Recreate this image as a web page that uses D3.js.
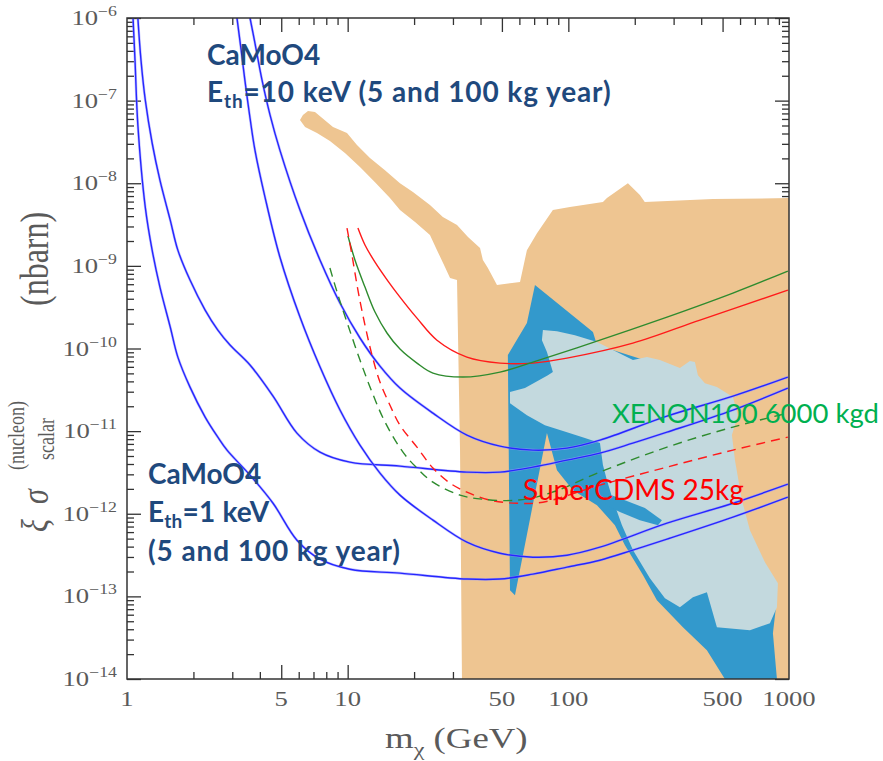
<!DOCTYPE html>
<html><head><meta charset="utf-8">
<script src="https://cdn.jsdelivr.net/npm/d3@7"></script>
<style>body{margin:0;background:#fff;} svg{display:block;}</style>
</head><body>
<script>
// ---- tick labels ----
const xTickLabels = [1, 5, 10, 50, 100, 500, 1000];
const xMajorTicks = [5, 10, 50, 100, 500];
const yTickExponents = [-6, -7, -8, -9, -10, -11, -12, -13, -14];

// ---- CaMoO4 sensitivity curves [mass GeV, sigma nbarn] ----
const camoo4_1keV_100kg = [[1.065,1e-6],[1.087,3.1e-7],[1.12,5.06e-8],[1.21,5.15e-9],[1.30,1.55e-9],[1.41,5.54e-10],[1.57,1.82e-10],[1.70,7.87e-11],[1.93,3.41e-11],[2.26,1.48e-11],[2.58,8.46e-12],[2.84,5.89e-12],[3.61,2.93e-12],[4.59,1.34e-12],[5.89,4.79e-13],[7.49,2.82e-13],[10.24,2.13e-13],[17.26,1.91e-13],[34.7,1.62e-13],[49,1.62e-13],[69.1,1.86e-13],[98.6,2.26e-13],[139,2.74e-13],[196,3.63e-13],[280,4.93e-13],[557,9.1e-13],[988,1.59e-12]];
const camoo4_1keV_5kg = [[1.12,1e-6],[1.157,3.1e-7],[1.21,1.02e-7],[1.30,3.07e-8],[1.41,1.09e-8],[1.57,3.58e-9],[1.70,1.55e-9],[1.93,6.73e-10],[2.26,2.92e-10],[2.58,1.67e-10],[2.93,1.10e-10],[3.61,6.30e-11],[4.59,2.65e-11],[5.89,9.46e-12],[7.49,5.57e-12],[10.24,4.21e-12],[17.26,3.77e-12],[34.7,3.19e-12],[49,3.19e-12],[69.1,3.67e-12],[98.6,4.46e-12],[139,5.42e-12],[196,7.16e-12],[280,9.72e-12],[557,1.80e-11],[988,3.32e-11]];
const camoo4_10keV_100kg = [[3.15,1e-6],[3.29,4.10e-7],[3.42,1.78e-7],[3.61,6.16e-8],[3.80,2.52e-8],[4.22,6.81e-9],[4.93,1.28e-9],[6.08,2.40e-10],[7.49,6.0e-11],[9.23,1.80e-11],[11.37,6.77e-12],[14.01,3.10e-12],[17.26,1.68e-12],[24.35,8.37e-13],[34.7,4.53e-13],[49,3.33e-13],[69.1,2.98e-13],[98.6,3.15e-13],[139,3.94e-13],[280,7.69e-13],[557,1.34e-12],[988,2.28e-12]];
const camoo4_10keV_5kg = [[3.61,1e-6],[3.80,4.98e-7],[4.09,1.78e-7],[4.45,6.69e-8],[4.93,2.52e-8],[6.08,4.74e-9],[7.49,1.18e-9],[9.23,3.55e-10],[11.37,1.34e-10],[14.01,6.12e-11],[17.26,3.32e-11],[24.35,1.65e-11],[34.7,8.95e-12],[49,6.58e-12],[69.1,5.89e-12],[98.6,6.23e-12],[139,7.78e-12],[280,1.52e-11],[557,2.65e-11],[988,4.51e-11]];

// ---- projected limits ----
const superCDMS_solid = [[11.13,2.87e-9],[11.98,1.79e-9],[13.30,1.11e-9],[15.23,6.55e-10],[17.26,4.19e-10],[20.61,2.33e-10],[25.39,1.26e-10],[34.7,7.87e-11],[49,6.66e-11],[69.1,6.66e-11],[98.6,7.65e-11],[196,1.16e-10],[395,2.21e-10],[988,5.09e-10]];
const superCDMS_dashed = [[9.93,2.87e-9],[10.46,1.35e-9],[11.13,5.09e-10],[11.98,1.92e-10],[12.89,8.32e-11],[14.01,3.92e-11],[15.55,2.06e-11],[17.26,1.18e-11],[20.61,6.40e-12],[24.35,3.57e-12],[29.08,2.35e-12],[34.7,1.83e-12],[44.1,1.46e-12],[58.5,1.34e-12],[76.7,1.38e-12],[139,2.22e-12],[280,3.67e-12],[557,5.89e-12],[988,8.46e-12]];
const xenon100_solid = [[10.03,2.30e-9],[10.79,1.18e-9],[11.98,5.54e-10],[13.30,2.76e-10],[15.07,1.54e-10],[17.26,9.83e-11],[20.61,6.66e-11],[24.35,5.04e-11],[33.3,4.51e-11],[49,5.18e-11],[69.1,6.85e-11],[139,1.26e-10],[280,2.40e-10],[557,4.69e-10],[988,8.65e-10]];
const xenon100_dashed = [[8.31,9.41e-10],[9.04,4.43e-10],[10.03,1.92e-10],[11.37,7.24e-11],[12.89,2.97e-11],[14.76,1.29e-11],[17.81,5.57e-12],[20.61,3.57e-12],[24.35,2.41e-12],[32.3,1.68e-12],[41.0,1.50e-12],[58.5,1.46e-12],[82.5,1.78e-12],[139,3.19e-12],[280,6.40e-12],[557,1.12e-11],[988,1.65e-11]];

// ---- shaded regions ----
const orangeRegion = [[6.27,6.69e-8],[6.61,7.48e-8],[7.11,7.28e-8],[8.58,4.79e-8],[9.93,4.05e-8],[11.02,2.90e-8],[12.62,2.02e-8],[14.76,1.44e-8],[17.26,1.0e-8],[19.76,7.83e-9],[23.6,5.45e-9],[27.0,3.90e-9],[31.3,3.12e-9],[35.1,2.23e-9],[39.8,1.64e-9],[41.0,1.18e-9],[43.2,9.41e-10],[47.5,5.86e-10],[60.4,6.37e-10],[64.9,1.55e-9],[72.1,2.49e-9],[85.1,4.74e-9],[101.7,5.15e-9],[143.5,5.92e-9],[149.6,6.62e-9],[186.2,1.0e-8],[211,7.20e-9],[222,5.92e-9],[452,6.44e-9],[1000,6.62e-9],[1000,1e-14],[32.96,1e-14],[32.3,5.89e-12],[31.3,6.73e-10],[29.1,7.12e-10],[27.6,9.67e-10],[25.4,1.55e-9],[23.6,2.36e-9],[20.2,3.39e-9],[17.26,4.74e-9],[15.55,6.62e-9],[13.30,1.03e-8],[11.37,1.57e-8],[9.72,2.32e-8],[8.31,3.24e-8],[7.26,4.05e-8],[6.41,4.79e-8],[6.08,5.82e-8]];
const darkBlueRegion = [[70.6,5.86e-10],[129.3,1.58e-10],[134.8,1.10e-10],[260,6.30e-11],[394.8,3.61e-11],[539.8,2.06e-11],[512,7.78e-12],[568.8,1.27e-12],[700.6,2.74e-13],[863.3,1.19e-13],[872.4,7.40e-14],[845.6,3.58e-14],[881.6,1e-14],[512,1e-14],[424.6,2.23e-14],[330.6,4.24e-14],[252,8.99e-14],[217.8,1.81e-13],[180.5,4.17e-13],[162.6,7.28e-13],[134.8,1.27e-12],[104.9,1.93e-12],[88.8,3.37e-12],[80.0,9.46e-12],[57.3,1.03e-13],[54.4,1.19e-13],[53.2,8.32e-11],[64.9,2.03e-10]];
const lightBlueRegion = [[76.7,1.67e-10],[88.8,1.62e-10],[107.1,1.45e-10],[134.8,1.20e-10],[159.3,9.56e-11],[196.2,7.24e-11],[227.1,7.87e-11],[260,7.24e-11],[320.4,5.79e-11],[355.6,7.04e-11],[374.6,6.85e-11],[386.6,4.76e-11],[415.9,3.81e-11],[471.3,3.41e-11],[557,2.58e-11],[586.9,1.56e-11],[551.2,8.95e-12],[568.8,4.46e-12],[611.8,1.46e-12],[665,6.33e-13],[778,2.59e-13],[890.8,1.44e-13],[881.6,7.40e-14],[819.7,4.74e-14],[665,3.90e-14],[471.3,4.24e-14],[424.6,1.12e-13],[367,9.78e-14],[320.4,7.40e-14],[274,9.51e-14],[234.3,1.66e-13],[196.2,3.63e-13],[175,7.28e-13],[159.3,1.46e-12],[149.6,2.55e-12],[143.5,3.88e-12],[139.1,7.16e-12],[118.9,8.23e-12],[98.6,9.72e-12],[78.3,1.18e-11],[64.9,1.56e-11],[54.4,2.18e-11],[54.4,2.97e-11],[63.6,3.32e-11],[80.8,4.76e-11],[85.1,5.18e-11],[80.0,9.04e-11],[75.9,1.26e-10]];
const darkFinger = [[143.5,1.83e-12],[180.5,1.46e-12],[222.4,1.17e-12],[265.5,8.37e-13],[255,7.28e-13],[211,8.37e-13],[171.3,1.05e-12],[148,1.27e-12]];

// ---- layout ----
const W = 883, H = 761;
const x = d3.scaleLog().domain([1, 1000]).range([127, 789]);
const y = d3.scaleLog().domain([1e-14, 1e-6]).range([679, 18]);

const svg = d3.select("body").append("svg").attr("width", W).attr("height", H)
  .attr("viewBox", `0 0 ${W} ${H}`);

svg.append("defs").append("clipPath").attr("id", "plotclip")
  .append("rect").attr("x", 127).attr("y", 18).attr("width", 662).attr("height", 661);

const axisColor = "#333";
function styleAxis(g) {
  g.selectAll("path.domain").remove();
  g.selectAll("line").attr("stroke", axisColor).attr("stroke-width", 1.3);
}
const xMinor = x.ticks().filter(v => !xMajorTicks.includes(v) && v !== 1 && v !== 1000);
const yAll = y.ticks();
const yMajor = yTickExponents.map(e => Math.pow(10, e));
const yMinor = yAll.filter(v => !yMajor.some(m => Math.abs(m - v) / m < 1e-6));

// bottom & top ticks
svg.append("g").attr("transform", "translate(0,679)")
  .call(d3.axisBottom(x).tickValues(xMinor).tickSize(-7).tickSizeOuter(0).tickFormat("")).call(styleAxis);
svg.append("g").attr("transform", "translate(0,679)")
  .call(d3.axisBottom(x).tickValues(xMajorTicks).tickSize(-14).tickSizeOuter(0).tickFormat("")).call(styleAxis);
svg.append("g").attr("transform", "translate(0,18)")
  .call(d3.axisTop(x).tickValues(xMinor).tickSize(-7).tickSizeOuter(0).tickFormat("")).call(styleAxis);
svg.append("g").attr("transform", "translate(0,18)")
  .call(d3.axisTop(x).tickValues(xMajorTicks).tickSize(-14).tickSizeOuter(0).tickFormat("")).call(styleAxis);
// left & right ticks
svg.append("g").attr("transform", "translate(127,0)")
  .call(d3.axisLeft(y).tickValues(yMinor).tickSize(-7).tickSizeOuter(0).tickFormat("")).call(styleAxis);
svg.append("g").attr("transform", "translate(127,0)")
  .call(d3.axisLeft(y).tickValues(yMajor).tickSize(-14).tickSizeOuter(0).tickFormat("")).call(styleAxis);
svg.append("g").attr("transform", "translate(789,0)")
  .call(d3.axisRight(y).tickValues(yMinor).tickSize(-7).tickSizeOuter(0).tickFormat("")).call(styleAxis);
svg.append("g").attr("transform", "translate(789,0)")
  .call(d3.axisRight(y).tickValues(yMajor).tickSize(-14).tickSizeOuter(0).tickFormat("")).call(styleAxis);

// ---- regions ----
const poly = d3.line().x(d => x(d[0])).y(d => y(d[1])).curve(d3.curveLinearClosed);
const plot = svg.append("g").attr("clip-path", "url(#plotclip)");
plot.append("path").attr("d", poly(orangeRegion)).attr("fill", "#eec591");
plot.append("path").attr("d", poly(darkBlueRegion)).attr("fill", "#3399cc");
plot.append("path").attr("d", poly(lightBlueRegion)).attr("fill", "#c3d9de");
plot.append("path").attr("d", poly(darkFinger)).attr("fill", "#3399cc");

// ---- curves ----
const line = d3.line().x(d => x(d[0])).y(d => y(d[1])).curve(d3.curveCatmullRom.alpha(0.5));
const blue = "#2626ff";
[camoo4_1keV_100kg, camoo4_1keV_5kg, camoo4_10keV_100kg, camoo4_10keV_5kg].forEach(s => {
  plot.append("path").attr("d", line(s)).attr("fill", "none").attr("stroke", "#9a9aff").attr("stroke-width", 2.6).attr("stroke-opacity", 0.6);
  plot.append("path").attr("d", line(s)).attr("fill", "none").attr("stroke", blue).attr("stroke-width", 1.4);
});
const red = "#ff1a1a", green = "#2e8b2e";
plot.append("path").attr("d", line(superCDMS_solid)).attr("fill", "none").attr("stroke", red).attr("stroke-width", 1.4);
plot.append("path").attr("d", line(xenon100_solid)).attr("fill", "none").attr("stroke", green).attr("stroke-width", 1.4);
plot.append("path").attr("d", line(superCDMS_dashed)).attr("fill", "none").attr("stroke", red).attr("stroke-width", 1.4).attr("stroke-dasharray", "9,6");
plot.append("path").attr("d", line(xenon100_dashed)).attr("fill", "none").attr("stroke", green).attr("stroke-width", 1.4).attr("stroke-dasharray", "9,6");

// frame
svg.append("rect").attr("x", x(1)).attr("y", y(1e-6)).attr("width", x(1000) - x(1)).attr("height", y(1e-14) - y(1e-6))
  .attr("fill", "none").attr("stroke", axisColor).attr("stroke-width", 1.5);

// ---- tick labels ----
const serif = "'Liberation Serif', 'Times New Roman', serif";
const labelColor = "#5a5a5a";
svg.append("g").selectAll("text").data(xTickLabels).join("text")
  .attr("transform", d => `translate(${x(d)},706) scale(1.27,1)`)
  .attr("text-anchor", "middle").attr("font-family", serif).attr("font-size", 21).attr("fill", labelColor)
  .text(d => d);
const yl = svg.append("g").selectAll("g").data(yTickExponents).join("g")
  .attr("transform", d => `translate(117,${y(Math.pow(10, d)) + 7}) scale(1.27,1)`);
yl.append("text").attr("text-anchor", "end").attr("font-family", serif).attr("fill", labelColor)
  .each(function(d) {
    const t = d3.select(this);
    t.append("tspan").attr("font-size", 21).text("10");
    t.append("tspan").attr("font-size", 14).attr("dy", -9).text("\u2212" + Math.abs(d));
  });

// ---- axis titles ----
const xt = svg.append("text").attr("transform", "translate(385,748) scale(1.27,1)")
  .attr("font-family", serif).attr("font-size", 29).attr("fill", labelColor);
xt.append("tspan").text("m");
xt.append("tspan").attr("font-size", 19).attr("dy", 8).text("\u03c7");
xt.append("tspan").attr("dy", -8).text(" (GeV)");

const yt = svg.append("g").attr("transform", "translate(48,532) rotate(-90) scale(1,1.27)")
  .attr("font-family", serif).attr("fill", labelColor);
yt.append("text").attr("x", 0).attr("y", 0).attr("font-size", 30).attr("font-style", "italic").text("\u03be");
yt.append("text").attr("x", 28).attr("y", 0).attr("font-size", 30).attr("font-style", "italic").text("\u03c3");
yt.append("text").attr("x", 62).attr("y", -19).attr("font-size", 18).text("(nucleon)");
yt.append("text").attr("x", 72).attr("y", 5).attr("font-size", 18).text("scalar");
yt.append("text").attr("x", 226).attr("y", 0).attr("font-size", 32).text("(nbarn)");

// ---- annotations ----
const sans = "Lato, 'Open Sans', sans-serif";
const navy = "#1f497d";
function eth(xp, yp, rest, ls) {
  const t = svg.append("text").attr("x", xp).attr("y", yp).attr("font-family", sans).attr("font-weight", 700)
    .attr("font-size", 28).attr("fill", navy).attr("letter-spacing", ls);
  t.append("tspan").text("E");
  t.append("tspan").attr("font-size", 19).attr("dy", 6).text("th");
  t.append("tspan").attr("dy", -6).text(rest);
}
svg.append("text").attr("x", 207).attr("y", 65).attr("font-family", sans).attr("font-weight", 700)
  .attr("font-size", 28).attr("fill", navy).text("CaMoO4");
eth(207, 102, "=10 keV (5 and 100 kg year)", 0.9);
svg.append("text").attr("x", 148).attr("y", 484).attr("font-family", sans).attr("font-weight", 700)
  .attr("font-size", 28).attr("fill", navy).text("CaMoO4");
eth(148, 522, "=1 keV", 0.2);
svg.append("text").attr("x", 148).attr("y", 561).attr("font-family", sans).attr("font-weight", 700)
  .attr("font-size", 28).attr("fill", navy).attr("letter-spacing", 0.9).text("(5 and 100 kg year)");

svg.append("text").attr("x", 612).attr("y", 423).attr("font-family", sans).attr("font-size", 27.5)
  .attr("fill", "#00b050").text("XENON100 6000 kgd");
svg.append("text").attr("x", 523).attr("y", 500).attr("font-family", sans).attr("font-size", 28)
  .attr("fill", "#ff0000").text("SuperCDMS 25kg");
</script>
</body></html>
